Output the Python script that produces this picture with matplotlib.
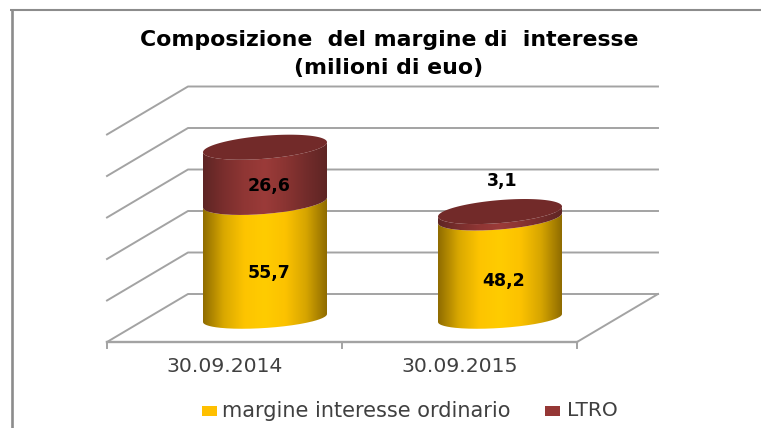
import numpy as np
import matplotlib
matplotlib.use("Agg")
import matplotlib.pyplot as plt
from matplotlib.colors import LinearSegmentedColormap
from matplotlib.patches import PathPatch, Rectangle
from matplotlib.path import Path

categories = ["30.09.2014", "30.09.2015"]
series_names = ["margine interesse ordinario", "LTRO"]
ordinario = [55.7, 48.2]
ltro = [26.6, 3.1]
gridlines = [0, 20, 40, 60, 80, 100]

W, H = 761, 428
X0, Y0 = 107.0, 342.0       # front-left corner of the floor, pixels
PX_CAT = 235.0              # pixels per category
PX_VAL = 2.075              # pixels per value unit
DEPTH_X, DEPTH_Y = 81.0, 48.0

plt.rcParams['font.family'] = ['DejaVu Sans']
fig = plt.figure(figsize=(W / 100, H / 100), dpi=100, facecolor='white')
ax = fig.add_axes([0, 0, 1, 1])
ax.set_axis_off()
xlim = (-X0 / PX_CAT, (W - X0) / PX_CAT)
ylim = (-(H - Y0) / PX_VAL, Y0 / PX_VAL)


def dx(px):
    return px / PX_CAT


def dy(px):
    return px / PX_VAL


GRID = '#a3a3a3'
n = len(categories)
# frame of the picture
ax.plot([dx(11.5 - X0)] * 2, [ylim[0], dy(Y0 - 9)], color='#8c8c8c', lw=1.9, zorder=1, solid_capstyle='butt')
ax.plot([dx(10 - X0), dx(W - X0)], [dy(Y0 - 10)] * 2, color='#8c8c8c', lw=1.5, zorder=1, solid_capstyle='butt')

# back wall, side wall, floor
for v in gridlines:
    ax.plot([0, dx(DEPTH_X), n + dx(DEPTH_X)],
            [v, v + dy(DEPTH_Y), v + dy(DEPTH_Y)], color=GRID, lw=1.4, zorder=2)
ax.plot([n, n + dx(DEPTH_X)], [0, dy(DEPTH_Y)], color=GRID, lw=1.4, zorder=2)
ax.plot([0, n], [0, 0], color=GRID, lw=1.7, zorder=2)
for i in range(n + 1):
    ax.plot([i, i], [0, -dy(6)], color=GRID, lw=1.4, zorder=2)

A, S_BOT, B_BOT, S_TOP, B_TOP = 62.0, 4.0, 10.0, 5.0, 11.5
t = np.linspace(0, 2 * np.pi, 181)
YEL = LinearSegmentedColormap.from_list('y', ['#8f6c00', '#d9a800', '#fdc400', '#ffcc00', '#fcc200', '#d6a500', '#8f6c00'])
RED = LinearSegmentedColormap.from_list('r', ['#5e2524', '#7a2e2d', '#8f3634', '#9b3b39', '#8a3432', '#732c2b', '#5e2524'])
TOP = '#722a29'


def rim(cx, cy, s, b):
    return (cx + dx(A) * np.cos(t), cy + dy(s) * np.cos(t) + dy(b) * np.sin(t))


def segment(cx, low, high, s0, b0, s1, b1, cmap, z):
    # lower rim front half, upper rim front half back again
    tf = np.linspace(np.pi, 2 * np.pi, 91)
    xl = cx + dx(A) * np.cos(tf)
    yl = low + dy(s0) * np.cos(tf) + dy(b0) * np.sin(tf)
    xu = xl[::-1]
    yu = (high + dy(s1) * np.cos(tf) + dy(b1) * np.sin(tf))[::-1]
    verts = np.column_stack([np.r_[xl, xu], np.r_[yl, yu]])
    patch = PathPatch(Path(np.vstack([verts, verts[0]])), fc='none', ec='none')
    ax.add_patch(patch)
    im = ax.imshow(np.linspace(0, 1, 256)[None, :], cmap=cmap, aspect='auto',
                   extent=(cx - dx(A), cx + dx(A), low - dy(30), high + dy(30)),
                   zorder=z, interpolation='bilinear')
    im.set_clip_path(patch)


def fmt(v):
    return f"{v:.1f}".replace('.', ',')


LABEL = dict(ha='center', va='center', fontsize=12.5, fontweight='bold', color='black', zorder=8)
for i in range(n):
    cx = i + 0.5 + dx(DEPTH_X / 2)
    base = dy(DEPTH_Y / 2)
    y1 = base + ordinario[i]
    y2 = y1 + ltro[i]
    segment(cx, base, y1, S_BOT, B_BOT, S_TOP, B_TOP, YEL, 5)
    segment(cx, y1, y2, S_TOP, B_TOP, S_TOP, B_TOP, RED, 6)
    xr, yr = rim(cx, y2, S_TOP, B_TOP)
    ax.fill(xr, yr, color=TOP, lw=0, zorder=7)
    ax.text(cx + dx(4), base + ordinario[i] / 2 - dy(13), fmt(ordinario[i]), **LABEL)
    if ltro[i] > 10:
        ax.text(cx + dx(4), y1 + ltro[i] / 2 - dy(11), fmt(ltro[i]), **LABEL)
    else:
        ax.text(cx + dx(2), y2 + dy(31), fmt(ltro[i]), **LABEL)
    ax.text(i + 0.5, -dy(24), categories[i], ha='center', va='center', fontsize=14.7, color='#404040')

fig.text(389 / W, 1 - 39.5 / H, "Composizione  del margine di  interesse", ha='center', va='center',
         fontsize=15.8, fontweight='bold', color='black')
fig.text(389 / W, 1 - 68 / H, "(milioni di euo)", ha='center', va='center',
         fontsize=15.8, fontweight='bold', color='black')

# legend
ax.add_patch(Rectangle((dx(202 - X0), dy(Y0 - 416)), dx(15), dy(10), fc='#ffc000', ec='none', zorder=3))
ax.text(dx(222 - X0), dy(Y0 - 411), series_names[0], ha='left', va='center', fontsize=15, color='#404040')
ax.add_patch(Rectangle((dx(545 - X0), dy(Y0 - 416)), dx(15), dy(10), fc='#953735', ec='none', zorder=3))
ax.text(dx(567 - X0), dy(Y0 - 411), series_names[1], ha='left', va='center', fontsize=14.5, color='#404040')

ax.set_xlim(xlim)
ax.set_ylim(ylim)
fig.savefig('out.png', dpi=100)
